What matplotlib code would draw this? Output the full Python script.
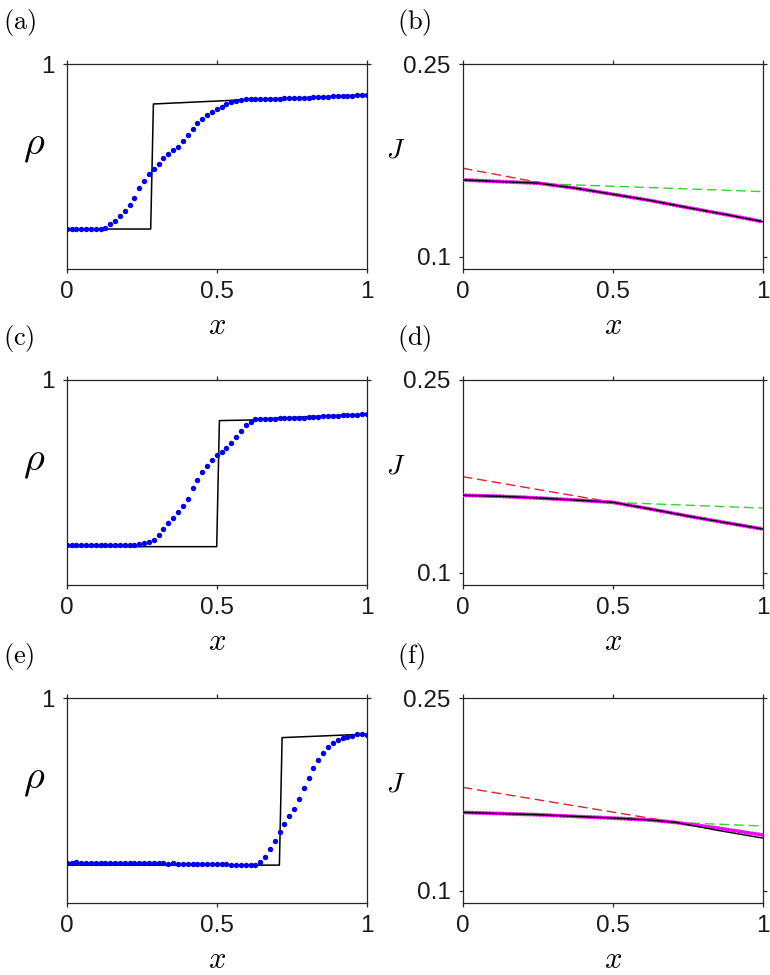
import numpy as np
import matplotlib.pyplot as plt

plt.rcParams['mathtext.fontset'] = 'cm'
plt.rcParams['font.family'] = ['Liberation Sans', 'DejaVu Sans']

# grid of the simulation points (dots)
x_dots = np.linspace(0, 1, 63)

# density profiles, panels (a), (c), (e)
rho_a = [0.195, 0.195, 0.195, 0.194, 0.195, 0.195, 0.195, 0.196,
         0.202, 0.221, 0.236, 0.260, 0.283, 0.312, 0.348, 0.393, 0.429, 0.463,
         0.488, 0.514, 0.543, 0.561, 0.579, 0.595, 0.624, 0.654, 0.683, 0.712,
         0.732, 0.751, 0.767, 0.780, 0.792, 0.805, 0.813, 0.820, 0.824, 0.828,
         0.829, 0.828, 0.829, 0.829, 0.830, 0.831, 0.831, 0.832, 0.833, 0.834,
         0.835, 0.836, 0.836, 0.838, 0.839, 0.840, 0.841, 0.842, 0.843, 0.844,
         0.845, 0.846, 0.847, 0.848, 0.850]
rho_c = [0.195, 0.196, 0.195, 0.195, 0.196, 0.195, 0.194, 0.195, 0.196, 0.195,
         0.195, 0.194, 0.195, 0.194, 0.196,
         0.198, 0.203, 0.208, 0.220, 0.244, 0.273, 0.301, 0.327, 0.358, 0.385,
         0.420, 0.472, 0.511, 0.550, 0.582, 0.610, 0.633, 0.650, 0.670, 0.694,
         0.720, 0.751, 0.780, 0.797, 0.808, 0.811, 0.812, 0.812, 0.812, 0.813,
         0.813, 0.814, 0.815, 0.816, 0.817, 0.818, 0.819, 0.821, 0.822, 0.823,
         0.825, 0.826, 0.827, 0.829, 0.830, 0.831, 0.833, 0.834]
rho_e = [0.197, 0.197, 0.198, 0.196, 0.197, 0.196, 0.197, 0.196, 0.196, 0.195,
         0.196, 0.195, 0.195, 0.194, 0.195, 0.194, 0.193, 0.194, 0.194, 0.193,
         0.193, 0.192, 0.193, 0.192, 0.191, 0.192, 0.191, 0.190, 0.191, 0.190,
         0.190, 0.189, 0.190, 0.189, 0.188, 0.188, 0.187, 0.187, 0.187, 0.188,
         0.202, 0.226, 0.262, 0.304, 0.345, 0.387, 0.424, 0.460, 0.506, 0.559,
         0.608, 0.660, 0.698, 0.730, 0.759, 0.779, 0.794, 0.803, 0.810, 0.816,
         0.823, 0.824, 0.821]

# step-like theory profiles (black)
step_a_x = [0, 0.280, 0.289, 0.54, 0.62, 0.75, 1]
step_a_y = [0.195, 0.195, 0.805, 0.822, 0.829, 0.833, 0.850]
step_c_x = [0, 0.500, 0.509, 0.617, 0.65, 1]
step_c_y = [0.187, 0.187, 0.802, 0.805, 0.811, 0.834]
step_e_x = [0, 0.709, 0.718, 0.933, 1]
step_e_y = [0.185, 0.185, 0.807, 0.820, 0.823]

# currents, panels (b), (d), (f)
jx = [0, 0.125, 0.25, 0.375, 0.5, 0.625, 0.75, 0.875, 1]
J_b = [0.1597, 0.1584, 0.1572, 0.1533, 0.1485, 0.1437, 0.1381, 0.1328, 0.1272]
J_d = [0.1602, 0.1594, 0.1581, 0.1565, 0.1547, 0.1495, 0.1440, 0.1389, 0.1339]
jx_f = [0, 0.25, 0.5, 0.625, 0.71, 0.85, 1]
Jsim_f = [0.1609, 0.1591, 0.1565, 0.1550, 0.1531, 0.1487, 0.1433]
Jth_f = [0.1609, 0.1591, 0.1565, 0.1550, 0.1531, 0.1469, 0.1409]

# left (red) and right (green) branch of the current
red_b = ([0, 0.28], [0.1688, 0.1566])
green_b = ([0.28, 1], [0.1566, 0.1506])
red_d = ([0, 0.5], [0.1747, 0.1547])
green_d = ([0.5, 1], [0.1547, 0.1502])
red_f = ([0, 0.71], [0.1804, 0.1531])
green_f = ([0.71, 1], [0.1531, 0.1503])

axcol = '#262626'
fig = plt.figure(figsize=(7.7, 9.75), dpi=100)

bottoms = [0.7241, 0.4, 0.0738]
h = 205 / 975
lefts = [66.7 / 770, 462.7 / 770]
w = 300 / 770


def style(ax):
    for s in ax.spines.values():
        s.set_color(axcol)
        s.set_linewidth(0.9)
    ax.tick_params(direction='out', length=2.8, width=0.9, color=axcol,
                   top=True, right=True, labelsize=17.5, labelcolor='#1a1a1a', pad=6)
    ax.set_xlim(0, 1)
    ax.set_xticks([0, 0.5, 1])
    ax.set_xticklabels(['0', '0.5', '1'])
    ax.text(0.5, -0.28, '$x$', transform=ax.transAxes, ha='center', va='center',
            fontsize=22)


rho_sets = [(rho_a, step_a_x, step_a_y, '(a)'),
            (rho_c, step_c_x, step_c_y, '(c)'),
            (rho_e, step_e_x, step_e_y, '(e)')]
for k, (rho, sx, sy, lab) in enumerate(rho_sets):
    ax = fig.add_axes([lefts[0], bottoms[k], w, h])
    ax.plot(sx, sy, color='black', lw=1.1, zorder=2)
    ax.plot(x_dots, rho, 'o', color='#0000f0', ms=3.9, mec='none', zorder=3)
    ax.set_ylim(0, 1)
    ax.set_yticks([1])
    ax.set_yticklabels(['1'])
    style(ax)
    ax.text(-0.109, 0.6, r'$\rho$', transform=ax.transAxes, ha='center', va='center',
            fontsize=29)
    ax.text(-0.212, 1.202, r'$\mathrm{%s}$' % lab, transform=ax.transAxes,
            ha='left', va='center', fontsize=19)

J_sets = [(jx, J_b, jx, J_b, red_b, green_b, '(b)'),
          (jx, J_d, jx, J_d, red_d, green_d, '(d)'),
          (jx_f, Jsim_f, jx_f, Jth_f, red_f, green_f, '(f)')]
for k, (xs, js, xt, jt, red, green, lab) in enumerate(J_sets):
    ax = fig.add_axes([lefts[1], bottoms[k], w, h])
    ax.plot(red[0], red[1], color='#e8202a', lw=1.0, ls=(0, (7, 3.5)), zorder=2)
    ax.plot(green[0], green[1], color='#2ed82e', lw=1.0, ls=(0, (7, 3.5)), zorder=2)
    ax.plot(xs, js, color='#ff00ff', lw=3.0, ls=(0, (0.01, 0.8)),
            dash_capstyle='round', zorder=3)
    ax.plot(xt, jt, color='black', lw=1.0, zorder=4)
    ax.set_ylim(0.0903, 0.25)
    ax.set_yticks([0.1, 0.25])
    ax.set_yticklabels(['0.1', '0.25'])
    style(ax)
    ax.text(-0.222, 0.576, '$J$', transform=ax.transAxes, ha='center', va='center',
            fontsize=20)
    ax.text(-0.219, 1.202, r'$\mathrm{%s}$' % lab, transform=ax.transAxes,
            ha='left', va='center', fontsize=19)

fig.savefig('out.png', dpi=100)
